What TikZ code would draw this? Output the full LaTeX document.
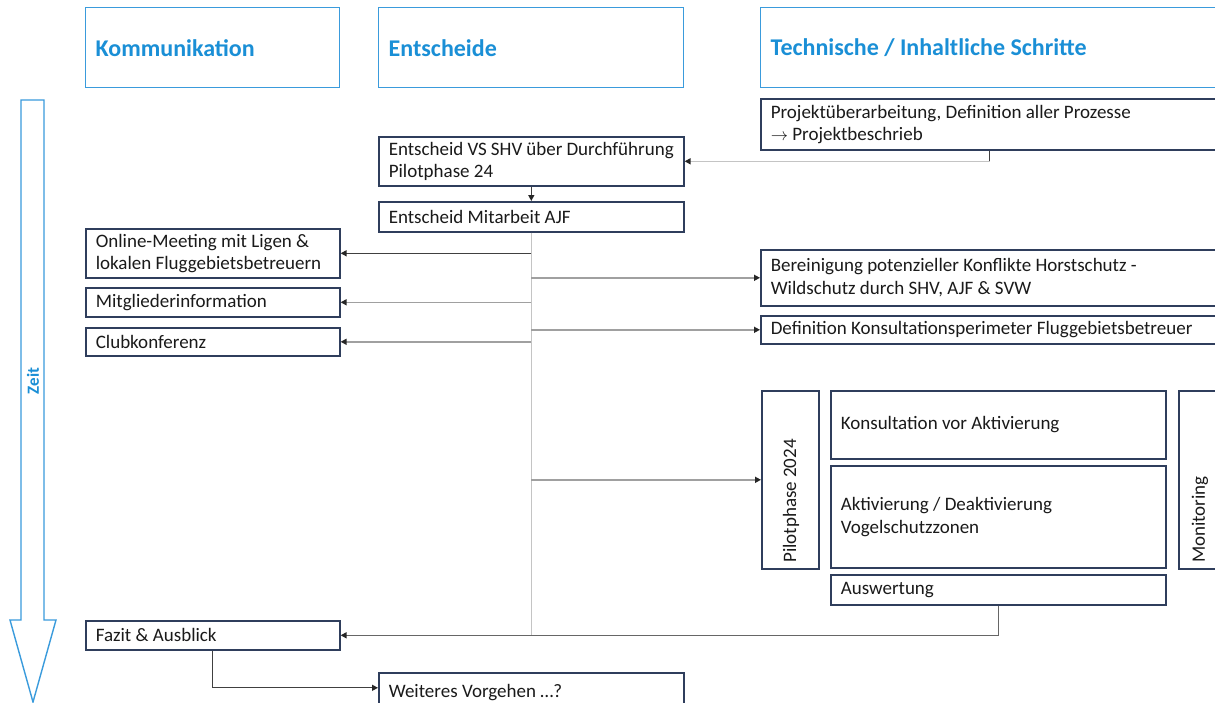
\documentclass[tikz,border=0pt]{standalone}
\usepackage{fontspec}
\setmainfont{Carlito}
\usetikzlibrary{arrows.meta,calc}
\definecolor{hblue}{HTML}{1A8FD6}
\definecolor{hborder}{HTML}{3A9BDC}
\definecolor{navy}{HTML}{2F3E5C}
\definecolor{txt}{HTML}{1A1A1A}
\definecolor{dline}{HTML}{404040}
\definecolor{mline}{HTML}{A0A0A0}
\definecolor{lline}{HTML}{C4C4C4}
\definecolor{bline}{HTML}{666666}
\definecolor{tipcol}{HTML}{262626}
\tikzset{
  natspace/.style={execute at begin node={\spaceskip=0pt\xspaceskip=0pt\hyphenpenalty=10000\relax}},
  hdr/.style={draw=hborder, line width=1.4pt, text=hblue, anchor=north west,
    inner xsep=10pt, inner ysep=0pt, align=left, natspace,
    font=\fontsize{24}{28}\selectfont\bfseries, minimum height=80pt},
  stepbox/.style={draw=navy, line width=1.6pt, text=txt, anchor=north west,
    inner xsep=10pt, inner ysep=0pt, align=left, natspace,
    font=\fontsize{19}{22.5}\selectfont},
  vlabel/.style={rotate=90, anchor=west, text=txt, inner sep=0pt,
    font=\fontsize{19}{22.5}\selectfont},
  tip/.style={-{Triangle[length=6pt,width=6pt,color=tipcol]}},
  dconn/.style={draw=dline, line width=1.3pt},
  mconn/.style={draw=mline, line width=1.5pt},
  lconn/.style={draw=lline, line width=1.5pt},
  bconn/.style={draw=bline, line width=1.4pt},
}
\begin{document}
\begin{tikzpicture}[x=1pt,y=-1pt]
\useasboundingbox (0,0) rectangle (1215,702);
\clip (0,0) rectangle (1215,702);
\fill[white] (0,0) rectangle (1215,702);

% Zeit arrow
\draw[hborder, line width=1.4pt, fill=white] (21,100) -- (44,100) -- (44,620) -- (56,620) -- (33,702) -- (10,620) -- (21,620) -- cycle;
\node[rotate=90, text=hblue, font=\fontsize{17}{20}\selectfont\bfseries, inner sep=0pt] (zeit) at (33,381) {Zeit};

% headers
\node[hdr, text width=234pt] (hk) at (85,7) {Kommunikation};
\node[hdr, text width=285pt] (he) at (378,7) {Entscheide};
\node[hdr, text width=470pt] (ht) at (760,7) {Technische / Inhaltliche Schritte};

% boxes
\node[stepbox, text width=450pt, minimum height=51pt] (proj) at (760,98) {Projektüberarbeitung, Definition aller Prozesse\\$\rightarrow$ Projektbeschrieb};
\node[stepbox, text width=285pt, minimum height=49pt] (vs) at (378,136) {Entscheid VS SHV über Durchführung\\Pilotphase 24};
\node[stepbox, text width=285pt, minimum height=30pt] (mit) at (378,201) {Entscheid Mitarbeit AJF};
\node[stepbox, text width=234pt, minimum height=49pt] (om) at (85,228) {Online-Meeting mit Ligen \&\\lokalen Fluggebietsbetreuern};
\node[stepbox, text width=234pt, minimum height=29pt] (mg) at (85,287) {Mitgliederinformation};
\node[stepbox, text width=234pt, minimum height=28pt] (club) at (85,327) {Clubkonferenz};
\node[stepbox, text width=450pt, minimum height=56pt] (ber) at (760,249) {Bereinigung potenzieller Konflikte Horstschutz -\\Wildschutz durch SHV, AJF \& SVW};
\node[stepbox, text width=450pt, minimum height=28pt] (def) at (760,315) {Definition Konsultationsperimeter Fluggebietsbetreuer};
\node[stepbox, minimum width=57pt, minimum height=178pt] (pilot) at (761,390) {};
\node[vlabel] (pilott) at (791,563) {Pilotphase 2024};
\node[stepbox, text width=315pt, minimum height=68pt] (kons) at (830,390) {Konsultation vor Aktivierung};
\node[stepbox, text width=315pt, minimum height=102pt] (akt) at (830,465) {Aktivierung / Deaktivierung\\Vogelschutzzonen};
\node[stepbox, minimum width=60pt, minimum height=178pt] (mon) at (1178,390) {};
\node[vlabel] (mont) at (1200,563) {Monitoring};
\node[stepbox, text width=315pt, minimum height=30pt] (ausw) at (830,574) {Auswertung};
\node[stepbox, text width=234pt, minimum height=29pt] (fazit) at (85,620) {Fazit \& Ausblick};
\node[stepbox, text width=285pt, minimum height=40pt] (weit) at (378,672) {Weiteres Vorgehen \ldots?};

% connectors
\coordinate (pk) at ([xshift=-6pt]proj.south);
\path[dconn] (pk) -- (pk |- vs.east);
\path[lconn, tip] (pk |- vs.east) -- (vs.east);
\path[dconn, tip] (vs.south) -- (mit.north);
\coordinate (tend) at (fazit.east -| mit.south);
\path[lconn] (mit.south) -- (tend);
\path[dconn, tip] (om.east -| mit.south) -- (om.east);
\path[mconn, tip] (mg.east -| mit.south) -- (mg.east);
\path[mconn, tip] (club.east -| mit.south) -- (club.east);
\path[mconn, tip] (ber.west -| mit.south) -- (ber.west);
\path[mconn, tip] (def.west -| mit.south) -- (def.west);
\path[mconn, tip] (pilot.west -| mit.south) -- (pilot.west);
\path[bconn, tip] (ausw.south) |- (fazit.east);
\path[dconn, tip] (fazit.south) |- ([yshift=5pt]weit.west);
\end{tikzpicture}
\end{document}
